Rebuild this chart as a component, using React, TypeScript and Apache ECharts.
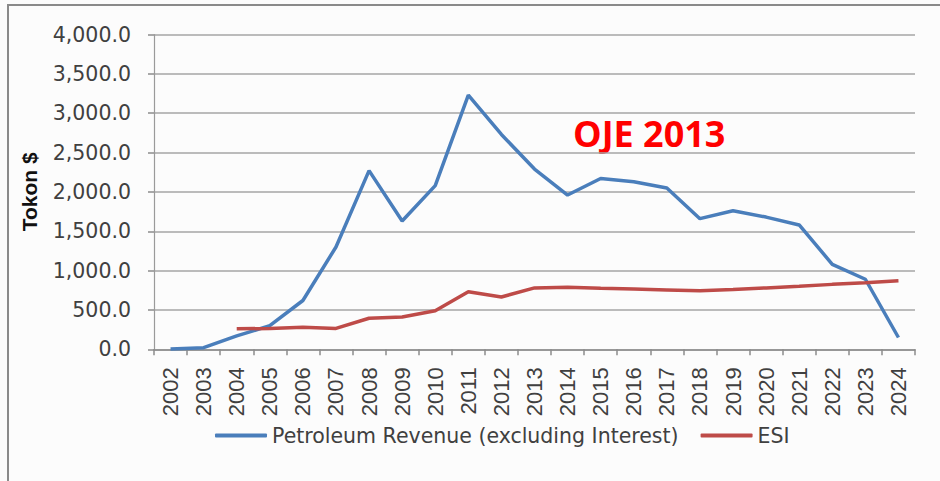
import React, { useEffect, useRef } from "react";
import * as echarts from "echarts";

const years = [
  "2002", "2003", "2004", "2005", "2006", "2007", "2008", "2009", "2010", "2011", "2012", "2013",
  "2014", "2015", "2016", "2017", "2018", "2019", "2020", "2021", "2022", "2023", "2024",
];

const petroleumRevenue = [
  5, 20, 170, 300, 620, 1300, 2270, 1630, 2080, 3230, 2730, 2290,
  1960, 2170, 2130, 2050, 1660, 1760, 1680, 1580, 1080, 890, 150,
];

const esi = [
  null, null, 260, 265, 280, 265, 395, 410, 490, 730, 665, 780,
  790, 775, 765, 755, 745, 760, 780, 800, 825, 845, 870,
];

const seriesNames = ["Petroleum Revenue (excluding Interest)", "ESI"];
const yAxisTitle = "Tokon $";
const annotation = "OJE 2013";

export default function App() {
  const ref = useRef<HTMLDivElement>(null);

  useEffect(() => {
    document.body.style.margin = "0";
    if (!ref.current) return;
    const chart = echarts.init(ref.current, null, { renderer: "svg" });
    const textColor = "#404040";
    chart.setOption({
      animation: false,
      backgroundColor: "#fcfcfc",
      grid: { left: 154, right: 25, top: 34.5, bottom: 131.7, containLabel: false },
      legend: {
        data: seriesNames,
        left: 215,
        top: 425,
        padding: 0,
        itemWidth: 52,
        itemHeight: 4,
        itemGap: 22,
        icon: "roundRect",
        textStyle: { fontFamily: "DejaVu Sans", fontSize: 20.5, color: textColor },
      },
      xAxis: {
        type: "category",
        data: years,
        boundaryGap: true,
        axisLine: { show: true, lineStyle: { color: "#8c8c8c", width: 1.5 } },
        axisTick: { show: true, alignWithLabel: false, length: 6, lineStyle: { color: "#8c8c8c", width: 1.5 } },
        axisLabel: {
          rotate: 90,
          margin: 18,
          interval: 0,
          fontFamily: "Liberation Sans",
          fontSize: 22,
          color: textColor,
        },
      },
      yAxis: {
        type: "value",
        min: 0,
        max: 4000,
        interval: 500,
        name: yAxisTitle,
        nameLocation: "middle",
        nameGap: 114,
        nameRotate: 90,
        nameTextStyle: { fontFamily: "Liberation Sans", fontWeight: "bold", fontSize: 21, color: "#111" },
        axisLine: { show: true, lineStyle: { color: "#9a9a9a", width: 1.2 } },
        axisTick: { show: true, inside: false, length: 6, lineStyle: { color: "#8c8c8c", width: 1.5 } },
        splitLine: { show: true, lineStyle: { color: "#a6a6a6", width: 1.5 } },
        axisLabel: {
          margin: 23,
          fontFamily: "DejaVu Sans",
          fontSize: 20.5,
          color: textColor,
          formatter: (v: number) =>
            v.toLocaleString("en-US", { minimumFractionDigits: 1, maximumFractionDigits: 1 }),
        },
      },
      series: [
        {
          name: seriesNames[0],
          type: "line",
          data: petroleumRevenue,
          showSymbol: false,
          symbol: "none",
          color: "#4a7ebb",
          lineStyle: { color: "#4a7ebb", width: 3.5 },
        },
        {
          name: seriesNames[1],
          type: "line",
          data: esi,
          showSymbol: false,
          symbol: "none",
          color: "#be4b48",
          lineStyle: { color: "#be4b48", width: 3.5 },
        },
      ],
      graphic: [
        {
          type: "line",
          shape: { x1: 7, y1: 5, x2: 940, y2: 5 },
          style: { stroke: "#8a8a8a", lineWidth: 2 },
        },
        {
          type: "line",
          shape: { x1: 8, y1: 5, x2: 8, y2: 481 },
          style: { stroke: "#8a8a8a", lineWidth: 2 },
        },
        {
          type: "text",
          x: 573,
          y: 133,
          style: {
            text: annotation,
            fill: "#ff0000",
            font: "bold 36px 'Open Sans'",
            verticalAlign: "middle",
            align: "left",
          },
        },
      ],
    });
    return () => chart.dispose();
  }, []);

  return <div ref={ref} style={{ width: 940, height: 481 }} />;
}
